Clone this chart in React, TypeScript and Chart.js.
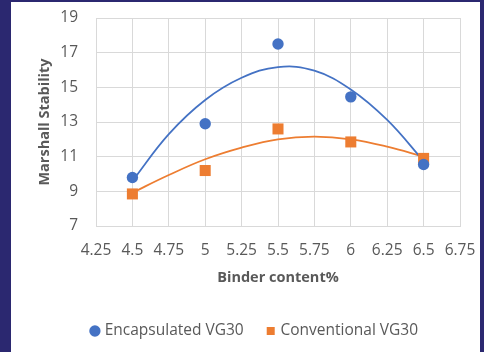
import React, { useEffect, useRef } from "react";
import { Chart, registerables } from "chart.js";

Chart.register(...registerables);

const binderContent = [4.5, 5, 5.5, 6, 6.5];
const encapsulatedVG30 = [9.8, 12.9, 17.5, 14.45, 10.55];
const conventionalVG30 = [8.85, 10.2, 12.6, 11.85, 10.9];

const trendBinder = [4.5, 4.75, 5, 5.25, 5.5, 5.75, 6, 6.25, 6.5];
const encapsulatedTrend = [9.6, 12.3, 14.27, 15.55, 16.17, 15.96, 14.88, 13.12, 10.75];
const conventionalTrend = [8.92, 9.94, 10.85, 11.52, 12.0, 12.15, 12.0, 11.58, 11.0];

const xTickValues = [4.25, 4.5, 4.75, 5, 5.25, 5.5, 5.75, 6, 6.25, 6.5, 6.75];
const yTickValues = [7, 9, 11, 13, 15, 17, 19];

const BLUE = "#4472C4";
const ORANGE = "#ED7D31";
const TEXT = "#595959";
const GRID = "#d9d9d9";
const FONT = "'Open Sans', sans-serif";

export default function App() {
  const ref = useRef<HTMLCanvasElement | null>(null);

  useEffect(() => {
    const canvas = ref.current;
    if (!canvas) return;
    const pts = (xs: number[], ys: number[]) => xs.map((x, i) => ({ x, y: ys[i] }));
    const chart = new Chart(canvas, {
      type: "scatter",
      data: {
        datasets: [
          {
            label: "Encapsulated VG30",
            data: pts(binderContent, encapsulatedVG30),
            backgroundColor: BLUE,
            borderColor: BLUE,
            pointStyle: "circle",
            pointRadius: 5.7,
            pointBorderWidth: 0,
            showLine: false,
            order: 0,
          },
          {
            label: "Conventional VG30",
            data: pts(binderContent, conventionalVG30),
            backgroundColor: ORANGE,
            borderColor: ORANGE,
            pointStyle: "rect",
            pointRadius: 7.8,
            pointBorderWidth: 0,
            showLine: false,
            order: 0,
          },
          {
            label: "trend-enc",
            type: "line",
            data: pts(trendBinder, encapsulatedTrend),
            borderColor: BLUE,
            borderWidth: 1.75,
            pointRadius: 0,
            tension: 0.4,
            fill: false,
            order: 1,
          } as any,
          {
            label: "trend-conv",
            type: "line",
            data: pts(trendBinder, conventionalTrend),
            borderColor: ORANGE,
            borderWidth: 1.75,
            pointRadius: 0,
            tension: 0.4,
            fill: false,
            order: 1,
          } as any,
        ],
      },
      options: {
        animation: false,
        responsive: false,
        maintainAspectRatio: false,
        layout: { padding: { left: 40, right: 20, top: 16, bottom: 3.25 } },
        plugins: {
          tooltip: { enabled: false },
          legend: {
            position: "bottom",
            labels: {
              usePointStyle: true,
              boxHeight: 8,
              boxWidth: 4,
              padding: 25,
              color: TEXT,
              font: { family: FONT, size: 15.5 },
              filter: (item) => !String(item.text).startsWith("trend"),
            },
          },
        },
        scales: {
          x: {
            type: "linear",
            min: 4.25,
            max: 6.75,
            afterBuildTicks: (axis: any) => {
              axis.ticks = xTickValues.map((v) => ({ value: v }));
            },
            afterFit: (axis: any) => {
              axis.height = 72.25;
              axis.paddingLeft = 0;
              axis.paddingRight = 0;
            },
            ticks: {
              color: TEXT,
              padding: 15,
              maxRotation: 0,
              minRotation: 0,
              autoSkip: false,
              font: { family: FONT, size: 15.5 },
              callback: (v: any) => String(v),
            },
            grid: { color: GRID, drawTicks: false, lineWidth: 1 },
            border: { color: GRID },
            title: {
              display: true,
              text: "Binder content%",
              color: TEXT,
              font: { family: FONT, size: 14.5, weight: "bold" },
              padding: { top: 0, bottom: 11.55 },
            },
          },
          y: {
            type: "linear",
            min: 7,
            max: 19,
            afterBuildTicks: (axis: any) => {
              axis.ticks = yTickValues.map((v) => ({ value: v }));
            },
            afterFit: (axis: any) => {
              axis.width = 45;
              axis.paddingTop = 0;
              axis.paddingBottom = 0;
            },
            ticks: {
              color: TEXT,
              padding: 18,
              autoSkip: false,
              font: { family: FONT, size: 15.5 },
              callback: (v: any) => String(v),
            },
            grid: { color: GRID, drawTicks: false, lineWidth: 1 },
            border: { color: GRID },
            title: {
              display: true,
              text: "Marshall Stability",
              color: TEXT,
              font: { family: FONT, size: 14.5, weight: "bold" },
              padding: { top: -14.7, bottom: 0 },
            },
          },
        },
      },
    });
    return () => chart.destroy();
  }, []);

  return (
    <div
      style={{
        position: "fixed",
        left: 0,
        top: 0,
        width: 484,
        height: 352,
        background: "#2b2870",
        overflow: "hidden",
      }}
    >
      <div
        style={{
          position: "absolute",
          left: 11,
          top: 2,
          width: 469,
          height: 350,
          background: "#ffffff",
        }}
      >
        <canvas ref={ref} width={469} height={350} style={{ display: "block", width: 469, height: 350 }} />
      </div>
    </div>
  );
}
